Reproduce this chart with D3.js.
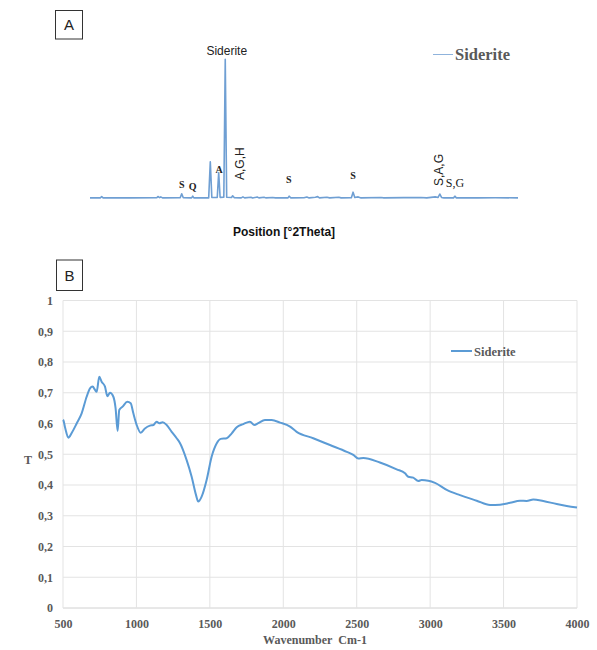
<!DOCTYPE html>
<html>
<head>
<meta charset="utf-8">
<script src="https://cdn.jsdelivr.net/npm/d3@7"></script>
<style>
  html, body { margin: 0; padding: 0; background: #fff; }
  svg { display: block; }
  .serif { font-family: "Liberation Serif", "Times New Roman", serif; }
  .sans { font-family: "Liberation Sans", Arial, sans-serif; }
</style>
</head>
<body>
<svg id="chart" width="597" height="650"></svg>
<script>
// ---------- Panel A: XRD pattern (°2θ, relative intensity) ----------
const xrdTheta = [5, 6.8, 7.05, 7.3, 12, 16.7, 16.9, 17.2, 17.4, 17.7, 20.8, 21.07, 21.35,
  22.8, 23.0, 23.2, 25.8, 26.08, 26.35, 27.3, 27.55, 27.8, 28.45, 28.7, 28.95, 29.8, 30.0,
  30.3, 31.5, 31.8, 32.1, 33.2, 33.5, 34.3, 34.6, 35.5, 35.8, 37, 37.5, 39.7, 39.9, 40.2,
  42.5, 43, 43.4, 44.5, 44.9, 45.2, 46.5, 47, 48.6, 49, 50.8, 51.1, 51.4, 52, 52.5, 56,
  56.5, 60, 63, 64, 65.5, 66.0, 66.3, 66.6, 67, 68.7, 68.95, 69.2, 73, 76, 80];
const xrdIntensity = [0.3, 0.3, 1.2, 0.3, 0.3, 0.4, 1.3, 0.5, 1.0, 0.3, 0.4, 3.2, 0.4,
  0.3, 1.5, 0.3, 0.3, 26.3, 0.6, 0.6, 18.3, 0.7, 0.8, 100, 0.8, 0.6, 1.8,
  0.4, 0.3, 1.0, 0.3, 0.8, 0.2, 0.9, 0.3, 0.8, 0.3, 0.6, 0.3, 0.3, 1.5, 0.3,
  0.4, 0.9, 0.3, 0.7, 1.2, 0.3, 0.8, 0.3, 0.8, 0.3, 0.4, 4.4, 0.6, 1.0, 0.3, 0.6,
  0.3, 0.5, 0.6, 0.3, 1.0, 0.6, 3.1, 0.6, 0.3, 0.3, 1.5, 0.3, 0.3, 0.4, 0.3];

// Phase labels and the peak (°2θ) each one marks
const peakLabels = ["S", "Q", "A", "A,G,H", "S", "S", "S,A,G", "S,G"];
const peakTheta  = [21.07, 23.0, 27.55, 30.0, 39.9, 51.1, 66.3, 68.95];

// ---------- Panel B: FTIR spectrum ----------
const wavenumber = [500, 502, 515, 536, 560, 593, 627, 661, 684, 702, 718, 729, 747, 763,
  786, 802, 820, 843, 858, 872, 883, 906, 938, 961, 979, 1002, 1029, 1058, 1092, 1115,
  1138, 1156, 1179, 1206, 1240, 1274, 1297, 1342, 1376, 1406, 1421, 1444, 1478, 1512,
  1547, 1574, 1615, 1649, 1683, 1728, 1773, 1803, 1830, 1875, 1921, 1978, 2046, 2091,
  2204, 2318, 2432, 2477, 2511, 2545, 2658, 2772, 2829, 2851, 2885, 2919, 2942, 2987,
  3033, 3113, 3203, 3317, 3408, 3476, 3544, 3612, 3657, 3702, 3770, 3862, 3930, 4000];
const transmittance = [0.612, 0.611, 0.585, 0.554, 0.570, 0.600, 0.633, 0.687, 0.714,
  0.720, 0.709, 0.703, 0.752, 0.736, 0.720, 0.689, 0.700, 0.687, 0.650, 0.576, 0.644,
  0.655, 0.671, 0.666, 0.633, 0.595, 0.570, 0.584, 0.593, 0.595, 0.606, 0.601, 0.604,
  0.595, 0.573, 0.552, 0.536, 0.481, 0.427, 0.367, 0.346, 0.362, 0.416, 0.492, 0.536,
  0.550, 0.552, 0.568, 0.588, 0.598, 0.606, 0.595, 0.601, 0.611, 0.611, 0.603, 0.590,
  0.573, 0.552, 0.530, 0.508, 0.498, 0.486, 0.488, 0.473, 0.451, 0.438, 0.427, 0.424,
  0.413, 0.416, 0.414, 0.407, 0.384, 0.367, 0.349, 0.335, 0.336, 0.342, 0.349, 0.348,
  0.353, 0.348, 0.338, 0.332, 0.327];

const xTicks = [500, 1000, 1500, 2000, 2500, 3000, 3500, 4000];
const yTicks = [0, 0.1, 0.2, 0.3, 0.4, 0.5, 0.6, 0.7, 0.8, 0.9, 1];
const seriesName = "Siderite";

const svg = d3.select("#chart");
svg.append("rect").attr("width", 597).attr("height", 650).attr("fill", "#fff");

const textGray = "#595959";
const lineBlue = "#5b9bd5";

// Boxed panel letter
function panelLetter(x0, y0, w, h, letter) {
  svg.append("rect").attr("x", x0).attr("y", y0).attr("width", w).attr("height", h)
    .attr("fill", "#fff").attr("stroke", "#333").attr("stroke-width", 1);
  svg.append("text").attr("class", "sans")
    .attr("x", x0 + w / 2).attr("y", y0 + h / 2 + 5.5)
    .attr("text-anchor", "middle").attr("font-size", 15).attr("fill", "#222")
    .text(letter);
}

// ===== Panel A =====
panelLetter(55.5, 10.5, 27, 28.5, "A");

const xA = d3.scaleLinear().domain([5, 80]).range([90, 518]);
const yA = d3.scaleLinear().domain([0, 100]).range([198.3, 59.3]);

const xrd = xrdTheta.map((t, i) => [t, xrdIntensity[i]]);
svg.append("path")
  .datum(xrd)
  .attr("fill", "none")
  .attr("stroke", "#6f9fd3")
  .attr("stroke-width", 1.6)
  .attr("stroke-linejoin", "round")
  .attr("d", d3.line().x(d => xA(d[0])).y(d => yA(d[1])));

// Main peak label
svg.append("text").attr("class", "sans")
  .attr("x", xA(28.7) + 1.5).attr("y", 55)
  .attr("text-anchor", "middle").attr("font-size", 12).attr("fill", "#222")
  .text(seriesName);

// Phase labels: short ones horizontal (bold serif), long ones rotated
const labelStyle = [
  {rot: false, dx: 0,   y: 188, cls: "serif", bold: true,  size: 10},
  {rot: false, dx: 0,   y: 190, cls: "serif", bold: true,  size: 10},
  {rot: false, dx: 0.5, y: 173, cls: "serif", bold: true,  size: 10},
  {rot: true,  dx: 11,  y: 180, cls: "sans",  bold: false, size: 12},
  {rot: false, dx: -0.5,y: 183, cls: "serif", bold: true,  size: 10},
  {rot: false, dx: 0,   y: 179, cls: "serif", bold: true,  size: 10},
  {rot: true,  dx: 3,   y: 186, cls: "sans",  bold: false, size: 12},
  {rot: false, dx: 0,   y: 187, cls: "serif", bold: false, size: 12}
];
peakLabels.forEach((lab, i) => {
  const s = labelStyle[i];
  const px = xA(peakTheta[i]) + s.dx;
  const t = svg.append("text").attr("class", s.cls)
    .attr("font-size", s.size)
    .attr("font-weight", s.bold ? "bold" : "normal")
    .attr("fill", "#222")
    .text(lab);
  if (s.rot) {
    t.attr("transform", `translate(${px},${s.y}) rotate(-90)`);
  } else {
    t.attr("x", px).attr("y", s.y).attr("text-anchor", "middle");
  }
});

// Legend A
svg.append("line").attr("x1", 433).attr("x2", 453).attr("y1", 54.5).attr("y2", 54.5)
  .attr("stroke", "#8fb3dc").attr("stroke-width", 1);
svg.append("text").attr("class", "serif")
  .attr("x", 455).attr("y", 60).attr("font-size", 16.5).attr("font-weight", "bold")
  .attr("fill", textGray).text(seriesName);

// Axis title A
svg.append("text").attr("class", "sans")
  .attr("x", 284).attr("y", 236).attr("text-anchor", "middle")
  .attr("font-size", 12).attr("font-weight", "bold").attr("fill", "#111")
  .text("Position [°2Theta]");

// ===== Panel B =====
panelLetter(56.5, 260, 26, 30.5, "B");

const xB = d3.scaleLinear().domain([500, 4000]).range([63, 577]);
const yB = d3.scaleLinear().domain([0, 1]).range([608, 300.5]);

const grid = svg.append("g");
grid.selectAll("line.h").data(yTicks).join("line")
  .attr("x1", xB(500)).attr("x2", xB(4000))
  .attr("y1", d => yB(d)).attr("y2", d => yB(d))
  .attr("stroke", d => d === 0 ? "#d0d0d0" : "#e3e3e3").attr("stroke-width", 1);
grid.selectAll("line.v").data(xTicks).join("line")
  .attr("y1", yB(0)).attr("y2", yB(1))
  .attr("x1", d => xB(d)).attr("x2", d => xB(d))
  .attr("stroke", "#e3e3e3").attr("stroke-width", 1);

// Tick labels via axes (no domain line / tick marks)
const fmtY = d => d3.format(".1f")(d).replace(".", ",").replace(/^0,0$/, "0").replace(/^1,0$/, "1");
const yAxis = svg.append("g").attr("transform", `translate(${xB(500)},0)`)
  .call(d3.axisLeft(yB).tickValues(yTicks).tickSize(0).tickPadding(10).tickFormat(fmtY));
const xAxis = svg.append("g").attr("transform", `translate(0,${yB(0)})`)
  .call(d3.axisBottom(xB).tickValues(xTicks).tickSize(0).tickPadding(11).tickFormat(d3.format("d")));
[yAxis, xAxis].forEach(ax => {
  ax.select(".domain").remove();
  ax.selectAll("text")
    .attr("font-family", "'Liberation Serif', 'Times New Roman', serif")
    .attr("font-weight", "bold").attr("font-size", 12).attr("fill", textGray);
});

// Spectrum
const ftir = wavenumber.map((w, i) => [w, transmittance[i]]);
svg.append("path")
  .datum(ftir)
  .attr("fill", "none")
  .attr("stroke", lineBlue)
  .attr("stroke-width", 2)
  .attr("stroke-linejoin", "round")
  .attr("d", d3.line().curve(d3.curveMonotoneX).x(d => xB(d[0])).y(d => yB(d[1])));

// Legend B
svg.append("line").attr("x1", 451).attr("x2", 472).attr("y1", 351).attr("y2", 351)
  .attr("stroke", lineBlue).attr("stroke-width", 2);
svg.append("text").attr("class", "serif")
  .attr("x", 474).attr("y", 355.5).attr("font-size", 12.5).attr("font-weight", "bold")
  .attr("fill", textGray).text(seriesName);

// Axis titles B
svg.append("text").attr("class", "serif")
  .attr("x", 315).attr("y", 644).attr("text-anchor", "middle")
  .attr("font-size", 12).attr("font-weight", "bold").attr("fill", textGray)
  .attr("xml:space", "preserve").style("white-space", "pre")
  .text("Wavenumber  Cm-1");
svg.append("text").attr("class", "serif")
  .attr("x", 28).attr("y", 464).attr("text-anchor", "middle")
  .attr("font-size", 12).attr("font-weight", "bold").attr("fill", textGray)
  .text("T");
</script>
</body>
</html>
